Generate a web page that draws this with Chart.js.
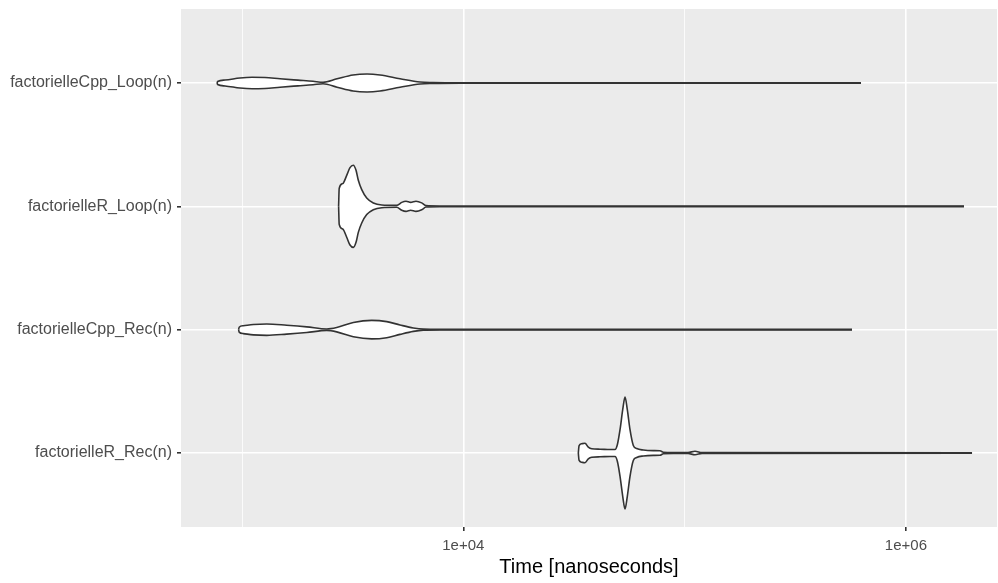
<!DOCTYPE html>
<html>
<head>
<meta charset="utf-8">
<script src="https://cdn.jsdelivr.net/npm/chart.js@4.4.0/dist/chart.umd.min.js"></script>
<style>
  body { margin: 0; background: #fff; }
</style>
</head>
<body>
<canvas id="chart" width="998" height="583"></canvas>
<script>
// categories, top to bottom
const categories = ["factorielleCpp_Loop(n)", "factorielleR_Loop(n)", "factorielleCpp_Rec(n)", "factorielleR_Rec(n)"];

// violin outlines: time (ns) and half width (in category units)
const cppLoopTime  = [771, 776, 838, 979, 1110, 1270, 1485, 1791, 2094, 2323, 2688, 3175, 3672, 4204, 5176, 6374, 7297, 9663, 626800];
const cppLoopWidth = [0, 0.012, 0.024, 0.041, 0.047, 0.044, 0.034, 0.023, 0.014, 0.006, 0.034, 0.065, 0.073, 0.065, 0.035, 0.008, 0.004, 0.002, 0.002];

const rLoopTime  = [2732, 2749, 2851, 2972, 3076, 3184, 3275, 3354, 3475, 3660, 3920, 4280, 5002, 5268, 5510, 5785, 6112, 6486, 6783, 7846, 1830000];
const rLoopWidth = [0, 0.146, 0.184, 0.251, 0.314, 0.333, 0.292, 0.211, 0.135, 0.067, 0.027, 0.011, 0.008, 0.032, 0.041, 0.032, 0.041, 0.028, 0.006, 0.003, 0.002];

const cppRecTime  = [965, 971, 1014, 1125, 1293, 1592, 1961, 2414, 2679, 3184, 3855, 4508, 5176, 5943, 6596, 7846, 570800];
const cppRecWidth = [0, 0.020, 0.032, 0.042, 0.046, 0.036, 0.023, 0.006, 0.018, 0.058, 0.075, 0.065, 0.038, 0.014, 0.004, 0.002, 0.002];

const rRecTime  = [33090, 33330, 34280, 35470, 36710, 38040, 41470, 46010, 48470, 49660, 51070, 52520, 53790, 55090, 56660, 58640, 60760, 65070, 72210, 77430, 80130, 88880, 103600, 111400, 119900, 1990000];
const rRecWidth = [0, 0.058, 0.075, 0.079, 0.047, 0.034, 0.031, 0.028, 0.028, 0.067, 0.189, 0.351, 0.453, 0.351, 0.189, 0.061, 0.036, 0.024, 0.019, 0.018, 0.006, 0.004, 0.004, 0.014, 0.003, 0.002];

// axis
const xMin = 530;
const xMax = 2580000;
const xTicks = [1e4, 1e6];
const xTickLabels = ["1e+04", "1e+06"];
const xMinorTicks = [1e3, 1e5];

const lineColor = "#333333";

// one violin = upper outline + lower outline filled up to it
function violin(name, times, widths) {
  const pos = categories.length - categories.indexOf(name);
  const upper = times.map((t, i) => ({ x: t, y: pos + widths[i] }));
  const lower = times.map((t, i) => ({ x: t, y: pos - widths[i] }));
  const common = {
    borderColor: lineColor,
    borderWidth: 1.6,
    pointRadius: 0,
    cubicInterpolationMode: "monotone"
  };
  return [
    { ...common, label: name, data: upper, fill: false },
    { ...common, label: name, data: lower, fill: "-1", backgroundColor: "#ffffff" }
  ];
}

const datasets = [
  ...violin("factorielleCpp_Loop(n)", cppLoopTime, cppLoopWidth),
  ...violin("factorielleR_Loop(n)", rLoopTime, rLoopWidth),
  ...violin("factorielleCpp_Rec(n)", cppRecTime, cppRecWidth),
  ...violin("factorielleR_Rec(n)", rRecTime, rRecWidth)
];

// grey panel behind the grid
const panelBg = {
  id: "panelBg",
  beforeDraw(chart) {
    const { ctx, chartArea: a } = chart;
    ctx.save();
    ctx.fillStyle = "#EBEBEB";
    ctx.fillRect(a.left, a.top, a.right - a.left, a.bottom - a.top);
    ctx.restore();
  }
};

const font = "'Liberation Sans', Arial, Helvetica, sans-serif";

new Chart(document.getElementById("chart"), {
  type: "line",
  data: { datasets },
  options: {
    responsive: false,
    animation: false,
    layout: { padding: { top: 9, right: 1, left: 0, bottom: 0 } },
    plugins: { legend: { display: false }, tooltip: { enabled: false } },
    scales: {
      x: {
        type: "logarithmic",
        min: xMin,
        max: xMax,
        afterBuildTicks: (scale) => {
          scale.ticks = [...xMinorTicks, ...xTicks].sort((a, b) => a - b).map((v) => ({ value: v }));
        },
        afterFit: (scale) => {
          scale.height = 56;
          scale.paddingLeft = 0;
          scale.paddingRight = 0;
        },
        border: { display: false },
        grid: {
          color: "#ffffff",
          lineWidth: (ctx) => (xTicks.includes(ctx.tick.value) ? 1.6 : 0.8),
          tickColor: (ctx) => (xTicks.includes(ctx.tick.value) ? lineColor : "rgba(0,0,0,0)"),
          tickLength: 4,
          drawTicks: true
        },
        ticks: {
          autoSkip: false,
          maxRotation: 0,
          padding: 6,
          color: "#4D4D4D",
          font: { family: font, size: 15 },
          callback: (v) => {
            const i = xTicks.indexOf(v);
            return i >= 0 ? xTickLabels[i] : "";
          }
        },
        title: {
          display: true,
          text: "Time [nanoseconds]",
          color: "#000000",
          font: { family: font, size: 20 },
          padding: { top: 0, bottom: 4 }
        }
      },
      y: {
        type: "linear",
        min: 0.4,
        max: 4.6,
        afterBuildTicks: (scale) => {
          scale.ticks = categories.map((c, i) => ({ value: categories.length - i }));
        },
        afterFit: (scale) => {
          scale.width = 181;
          scale.paddingTop = 0;
          scale.paddingBottom = 0;
        },
        border: { display: false },
        grid: {
          color: "#ffffff",
          lineWidth: 1.6,
          tickColor: lineColor,
          tickLength: 4
        },
        ticks: {
          padding: 5,
          color: "#4D4D4D",
          font: { family: font, size: 16 },
          callback: (v) => categories[categories.length - v]
        }
      }
    }
  },
  plugins: [panelBg]
});
</script>
</body>
</html>
